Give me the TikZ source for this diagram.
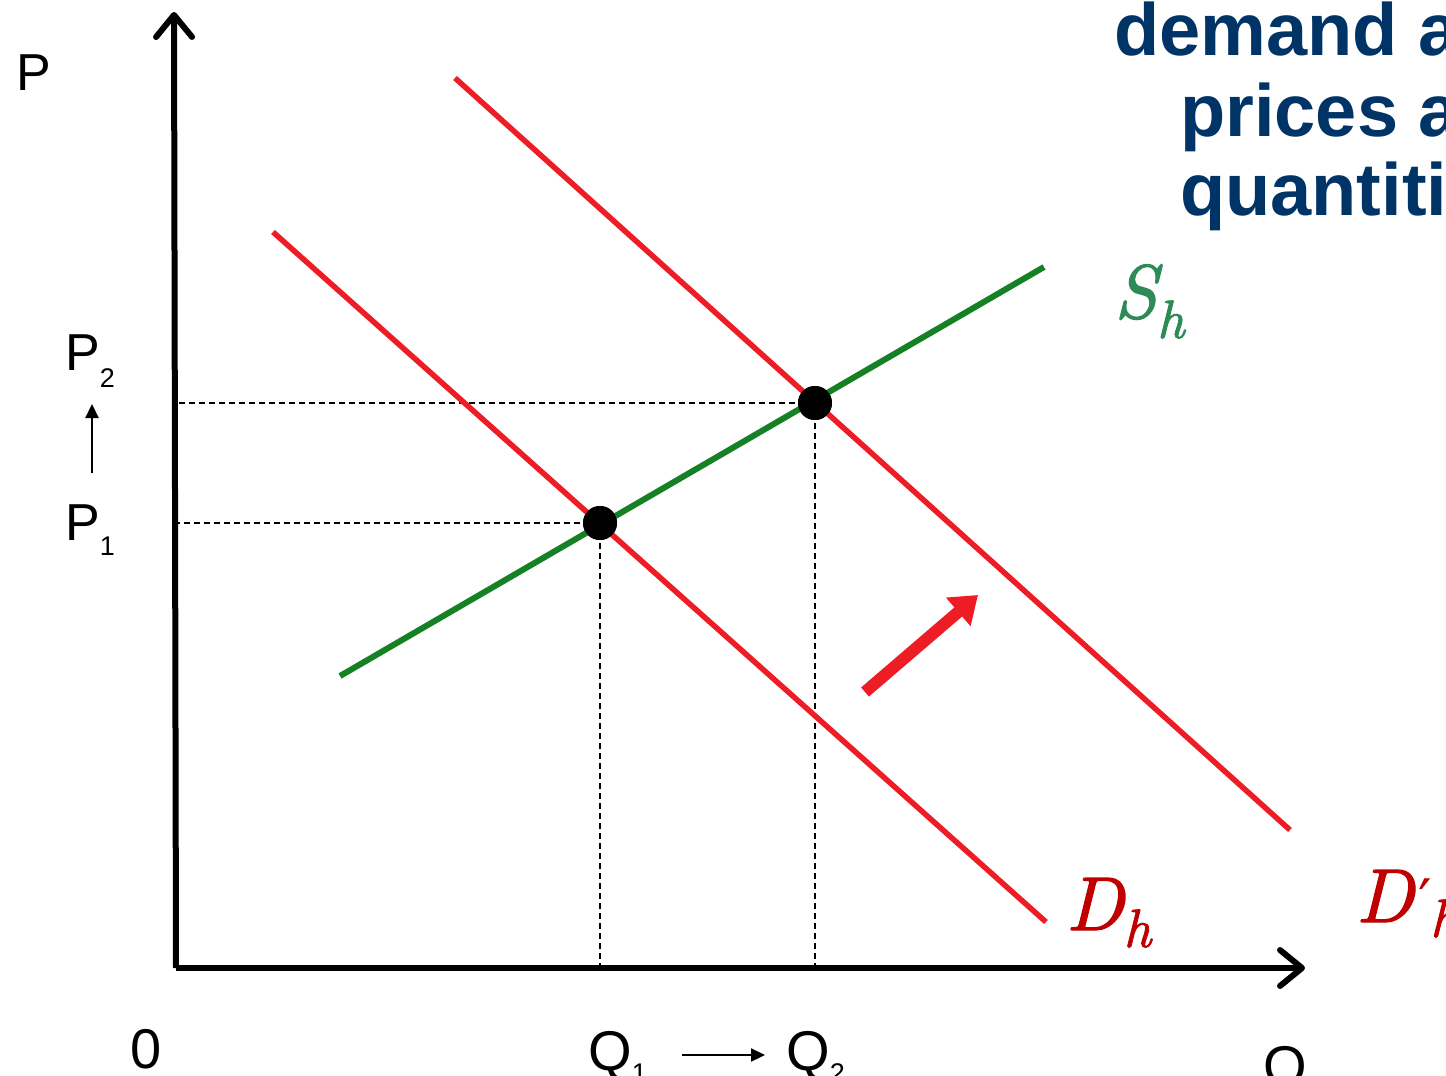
\documentclass[tikz,border=0pt]{standalone}
\usepackage{fontspec}
\setmainfont{Liberation Sans}
\newfontface\lmheavy{lmroman10-italic.otf}[FakeBold=1.6]
\newfontfamily\primefont{DejaVu Sans}
\usetikzlibrary{arrows.meta}
\definecolor{curvered}{RGB}{238,28,36}
\definecolor{labelred}{RGB}{192,0,0}
\definecolor{supgreen}{RGB}{22,128,36}
\definecolor{labelgreen}{RGB}{46,139,87}
\definecolor{titleblue}{RGB}{0,51,102}
\tikzset{
  axisline/.style={line width=6pt,-{Straight Barb[length=22pt,width=36pt,round]}},
  demandline/.style={curvered,line width=5.5pt},
  supplyline/.style={supgreen,line width=6pt},
  guide/.style={line width=1.4pt,dash pattern=on 6pt off 4pt},
  eqdot/.style={circle,fill=black,minimum size=34pt,inner sep=0pt},
  axislabel/.style={font=\fontsize{52}{52}\selectfont,inner sep=0pt,anchor=base west},
  mathlabel/.style={font=\lmheavy\fontsize{76}{76}\selectfont,inner sep=0pt,anchor=base west},
  titletext/.style={font=\fontsize{74}{74}\selectfont\bfseries,text=titleblue,inner sep=0pt,anchor=base west},
  thinarrow/.style={line width=2.2pt,-{Triangle[length=14pt,width=13pt]}},
  shiftarrow/.style={curvered,line width=12pt,-{Triangle[length=26pt,width=36pt]}}
}
\newcommand\lowsub[2]{\raisebox{-#1}{\fontsize{27}{27}\selectfont #2}}
\newcommand\mlsub[2]{\raisebox{-#1}{\fontsize{54}{54}\selectfont #2}}
\begin{document}
\begin{tikzpicture}[x=1pt,y=-1pt]
\useasboundingbox (0,0) rectangle (1446,1076);
\clip (0,0) rectangle (1446,1076);
% coordinates
\coordinate (O) at (176,968);
\coordinate (Ytop) at (174,12);
\coordinate (Xend) at (1305,968);
\coordinate (D1a) at (273,232);
\coordinate (D1b) at (1046,922);
\coordinate (D2a) at (455,78);
\coordinate (D2b) at (1290,830);
\coordinate (Sa) at (340,676);
\coordinate (Sb) at (1044,267);
\coordinate (A1) at (865,692);
\coordinate (A2) at (978,595);
% dashed guides
\node[eqdot] (E1) at (600,523) {};
\node[eqdot] (E2) at (815,403) {};
\draw[guide] (E2.center) -- (E2.center -| O);
\draw[guide] (E1.center) -- (E1.center -| O);
\draw[guide] (E1.center) -- (E1.center |- O);
\draw[guide] (E2.center) -- (E2.center |- O);
% curves
\draw[demandline] (D1a) -- (D1b);
\draw[demandline] (D2a) -- (D2b);
\draw[supplyline] (Sa) -- (Sb);
\node[eqdot] at (E1) {};
\node[eqdot] at (E2) {};
% axes
\draw[axisline] (O) -- (Ytop);
\draw[axisline] (O) -- (Xend);
% shift arrow
\draw[shiftarrow] (A1) -- (A2);
% labels
\node[axislabel] (P) at (16,90) {P};
\node[axislabel] (P2) at (65,370) {P\lowsub{17pt}{2}};
\node[axislabel] (P1) at (65,540) {P\lowsub{15pt}{1}};
\coordinate (pa1) at (92,473);
\coordinate (pa2) at (92,404);
\draw[thinarrow] (pa1) -- (pa2);
\node[axislabel,font=\fontsize{56}{56}\selectfont] (zero) at (130,1068) {0};
\node[axislabel,font=\fontsize{56}{56}\selectfont] (Q1) at (588,1070) {Q\lowsub{12pt}{1}};
\node[axislabel,font=\fontsize{56}{56}\selectfont] (Q2) at (786,1070) {Q\lowsub{12pt}{2}};
\coordinate (qa1) at (682,1055);
\coordinate (qa2) at (765,1055);
\draw[thinarrow] (qa1) -- (qa2);
\node[axislabel,font=\fontsize{56}{56}\selectfont] (Q) at (1263,1085) {Q};
\node[mathlabel,text=labelgreen] (Sh) at (1114,318) {S\mlsub{20pt}{h}};
\node[mathlabel,text=labelred] (Dh) at (1066,930) {D\mlsub{17pt}{h}};
\node[mathlabel,text=labelred] (Dph) at (1356,922) {D\kern5pt{\primefont\fontsize{60}{60}\selectfont\char"2032}\kern-2pt\mlsub{15pt}{h}};
% title (cut off at the right edge)
\node[titletext] (t1) at (1114,55) {demand a};
\node[titletext] (t2) at (1180,136) {prices a};
\node[titletext] (t3) at (1180,215) {quantiti};
\end{tikzpicture}
\end{document}
